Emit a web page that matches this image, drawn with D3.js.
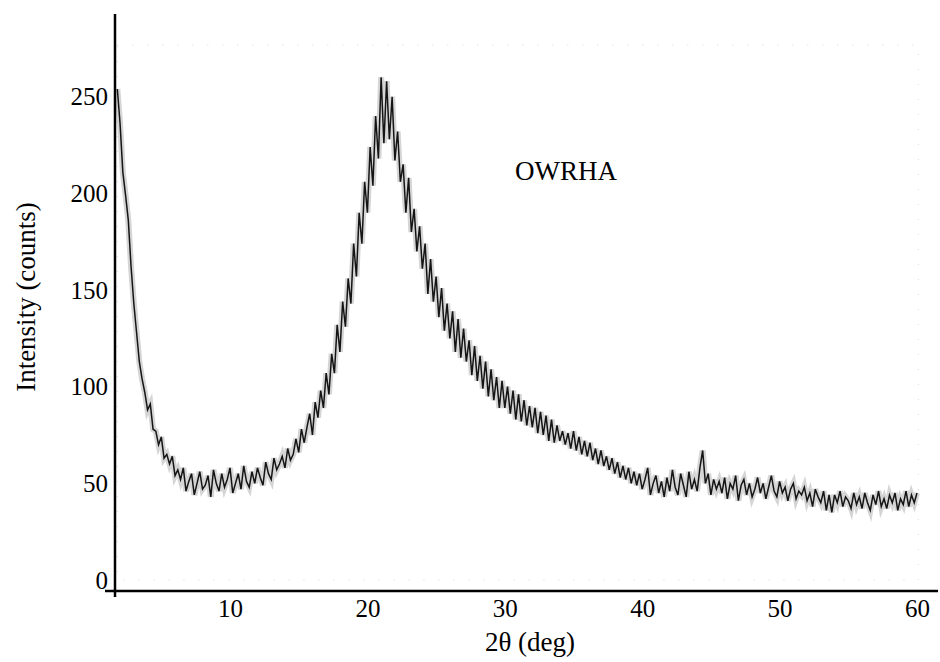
<!DOCTYPE html>
<html>
<head>
<meta charset="utf-8">
<script src="https://cdn.jsdelivr.net/npm/d3@7"></script>
<style>
  body { margin: 0; background: #fff; }
  svg text { font-family: "Times New Roman", "Liberation Serif", Tinos, Times, serif; fill: #000; }
</style>
</head>
<body>
<div id="chart"></div>
<script>
// 2-theta start and step of the scan (deg)
var thetaStart = 1.8;
var thetaStep = 0.2;

// intensity (counts), one row = 2 deg
var intensity = [
  254, 236, 211, 199, 186, 162, 143, 128, 113, 104,
  97, 88, 91, 78, 77, 70, 74, 63, 65, 60,
  64, 54, 57, 52, 58, 46, 51, 55, 44, 50,
  56, 47, 49, 54, 43, 57, 50, 46, 55, 48,
  52, 58, 45, 50, 55, 47, 59, 51, 48, 56,
  50, 58, 53, 49, 61, 55, 52, 63, 57, 60,
  64, 58, 68, 62, 65, 73, 66, 78, 71, 79,
  86, 75, 92, 84, 98, 89, 107, 96, 117, 107,
  132, 118, 144, 131, 156, 143, 174, 157, 190, 174,
  206, 190, 224, 204, 240, 218, 260, 226, 258, 228,
  250, 217, 232, 206, 215, 190, 208, 180, 192, 170,
  183, 161, 174, 148, 166, 144, 157, 136, 151, 129,
  143, 125, 139, 118, 135, 115, 130, 113, 124, 106,
  121, 103, 116, 99, 113, 95, 109, 93, 105, 89,
  103, 89, 100, 86, 98, 83, 96, 82, 93, 80,
  90, 79, 89, 76, 87, 75, 85, 72, 83, 71,
  80, 72, 77, 70, 76, 68, 77, 67, 74, 65,
  72, 64, 71, 62, 68, 60, 67, 59, 64, 57,
  63, 55, 61, 53, 59, 52, 58, 50, 56, 49,
  55, 47, 52, 58, 44, 50, 54, 45, 51, 43,
  53, 46, 57, 48, 44, 55, 49, 43, 56, 47,
  52, 46, 58, 67, 50, 55, 44, 52, 47, 51,
  45, 53, 42, 50, 47, 54, 41, 49, 52, 44,
  50, 43, 47, 53, 45, 50, 42, 48, 54, 46,
  43, 51, 45, 48, 41, 47, 50, 42, 46, 44,
  48, 41, 45, 38, 47, 43, 40, 46, 36, 44,
  35, 44, 40, 46, 38, 43, 41, 37, 45, 39,
  43, 37, 45, 40, 36, 44, 39, 46, 38, 42,
  37, 44, 40, 45, 36, 42, 39, 46, 38, 44,
  40, 45
];

var xTicks = [10, 20, 30, 40, 50, 60];
var yTicks = [0, 50, 100, 150, 200, 250];
var sampleName = "OWRHA";

var width = 940, height = 662;
var serif = '"Times New Roman", "Liberation Serif", Tinos, Times, serif';

var svg = d3.select("#chart")
    .append("svg")
    .attr("width", width)
    .attr("height", height);

var x = d3.scaleLinear().domain([10, 60]).range([230, 917]);
var y = d3.scaleLinear().domain([0, 250]).range([580, 96.7]);

var data = intensity.map(function (v, i) {
    return { t: thetaStart + i * thetaStep, v: v };
});

// faint dotted frame of the original plot area
svg.append("rect")
    .attr("x", x(thetaStart))
    .attr("y", 45)
    .attr("width", x(60.1) - x(thetaStart))
    .attr("height", y(0) - 45)
    .attr("fill", "none")
    .attr("stroke", "#d8d8d8")
    .attr("stroke-width", 1)
    .attr("stroke-dasharray", "1,14");

var line = d3.line()
    .x(function (d) { return x(d.t); })
    .y(function (d) { return y(d.v); });

// grey haze under the trace
svg.append("path")
    .datum(data)
    .attr("fill", "none")
    .attr("stroke", "#888")
    .attr("stroke-opacity", 0.35)
    .attr("stroke-width", 6)
    .attr("d", line);

svg.append("path")
    .datum(data)
    .attr("fill", "none")
    .attr("stroke", "#151515")
    .attr("stroke-width", 1.5)
    .attr("d", line);

// axes
var xAxis = svg.append("g")
    .attr("transform", "translate(0,591)")
    .call(d3.axisBottom(x).tickValues(xTicks).tickSize(0).tickPadding(8));
xAxis.select(".domain").remove();
xAxis.selectAll("text").style("font-size", "25px").style("font-family", serif);

var yAxis = svg.append("g")
    .attr("transform", "translate(115,0)")
    .call(d3.axisLeft(y).tickValues(yTicks).tickSize(0).tickPadding(7));
yAxis.select(".domain").remove();
yAxis.selectAll("text").style("font-size", "25px").style("font-family", serif);

svg.append("line")
    .attr("x1", 105).attr("x2", 938)
    .attr("y1", 591).attr("y2", 591)
    .attr("stroke", "#000").attr("stroke-width", 2.5);

svg.append("line")
    .attr("x1", 115).attr("x2", 115)
    .attr("y1", 14).attr("y2", 597)
    .attr("stroke", "#000").attr("stroke-width", 2.5);

// labels
svg.append("text")
    .attr("x", 530)
    .attr("y", 651)
    .attr("text-anchor", "middle")
    .style("font-size", "27px")
    .style("font-family", serif)
    .text("2θ (deg)");

svg.append("text")
    .attr("transform", "translate(35,297) rotate(-90)")
    .attr("text-anchor", "middle")
    .style("font-size", "27px")
    .style("font-family", serif)
    .text("Intensity (counts)");

svg.append("text")
    .attr("x", 515)
    .attr("y", 180)
    .style("font-size", "27px")
    .style("font-family", serif)
    .text(sampleName);
</script>
</body>
</html>
